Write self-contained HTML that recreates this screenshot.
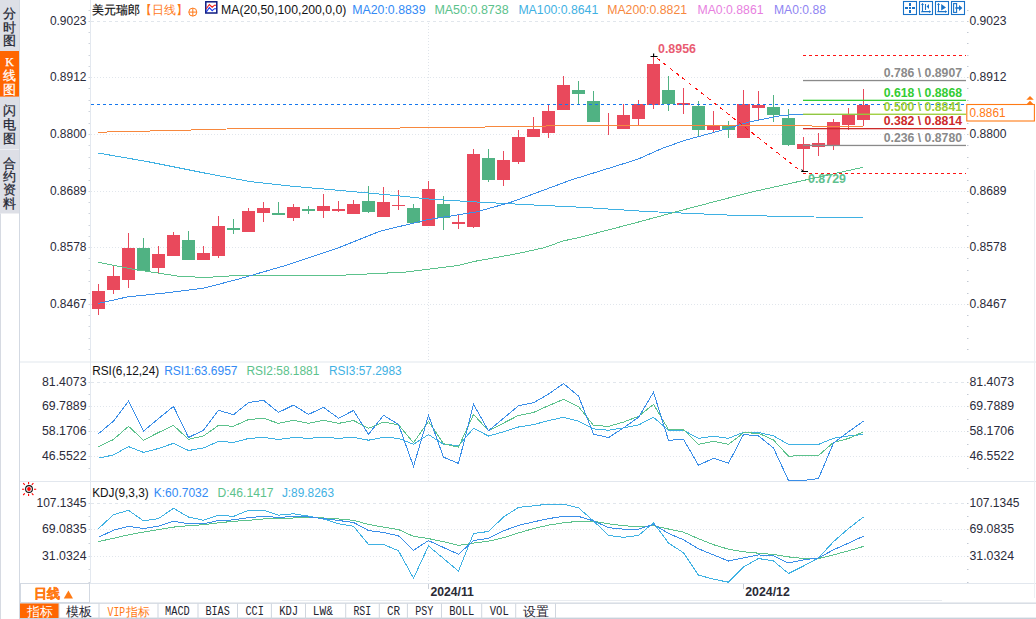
<!DOCTYPE html>
<html><head><meta charset="utf-8"><title>chart</title>
<style>
html,body{margin:0;padding:0;background:#fff;width:1036px;height:619px;overflow:hidden;}
svg{display:block;font-family:"Liberation Sans",sans-serif;}
</style></head><body>
<svg width="1036" height="619" viewBox="0 0 1036 619">
<rect x="0" y="0" width="19" height="213.5" fill="#dddfe6"/>
<rect x="0" y="51" width="19" height="45.6" fill="#ff6600"/>
<rect x="0" y="149" width="19" height="1" fill="#eceef2"/>
<rect x="0" y="213.5" width="1" height="405.5" fill="#d6dae2"/>
<rect x="19" y="0" width="1" height="619" fill="#d3d9e2"/>
<rect x="20" y="361.5" width="1016" height="1" fill="#e2e7ee"/>
<rect x="20" y="481" width="1016" height="1" fill="#e2e7ee"/>
<rect x="20" y="583" width="1016" height="1" fill="#e2e7ee"/>
<rect x="282" y="600" width="660" height="1" fill="#e9ecf0"/>
<rect x="20" y="602.6" width="1016" height="1.1" fill="#c9d0da"/>
<rect x="20" y="617.6" width="1016" height="1.4" fill="#c9d0da"/>
<rect x="1034" y="170" width="1" height="428" fill="#edf0f4"/>
<line x1="90.5" y1="0" x2="90.5" y2="583" stroke="#e3e8ef" stroke-width="1"/>
<rect x="88.5" y="21" width="1.5" height="1" fill="#cfd4dc"/>
<rect x="967" y="21" width="1.5" height="1" fill="#c3c9d2"/>
<rect x="88.5" y="32" width="1.5" height="1" fill="#cfd4dc"/>
<rect x="967" y="32" width="1.5" height="1" fill="#c3c9d2"/>
<rect x="88.5" y="43" width="1.5" height="1" fill="#cfd4dc"/>
<rect x="967" y="43" width="1.5" height="1" fill="#c3c9d2"/>
<rect x="88.5" y="55" width="1.5" height="1" fill="#cfd4dc"/>
<rect x="967" y="55" width="1.5" height="1" fill="#c3c9d2"/>
<rect x="88.5" y="66" width="1.5" height="1" fill="#cfd4dc"/>
<rect x="967" y="66" width="1.5" height="1" fill="#c3c9d2"/>
<rect x="88.5" y="77" width="1.5" height="1" fill="#cfd4dc"/>
<rect x="967" y="77" width="1.5" height="1" fill="#c3c9d2"/>
<rect x="88.5" y="88" width="1.5" height="1" fill="#cfd4dc"/>
<rect x="967" y="88" width="1.5" height="1" fill="#c3c9d2"/>
<rect x="88.5" y="100" width="1.5" height="1" fill="#cfd4dc"/>
<rect x="967" y="100" width="1.5" height="1" fill="#c3c9d2"/>
<rect x="88.5" y="111" width="1.5" height="1" fill="#cfd4dc"/>
<rect x="967" y="111" width="1.5" height="1" fill="#c3c9d2"/>
<rect x="88.5" y="123" width="1.5" height="1" fill="#cfd4dc"/>
<rect x="967" y="123" width="1.5" height="1" fill="#c3c9d2"/>
<rect x="88.5" y="134" width="1.5" height="1" fill="#cfd4dc"/>
<rect x="967" y="134" width="1.5" height="1" fill="#c3c9d2"/>
<rect x="88.5" y="145" width="1.5" height="1" fill="#cfd4dc"/>
<rect x="967" y="145" width="1.5" height="1" fill="#c3c9d2"/>
<rect x="88.5" y="157" width="1.5" height="1" fill="#cfd4dc"/>
<rect x="967" y="157" width="1.5" height="1" fill="#c3c9d2"/>
<rect x="88.5" y="168" width="1.5" height="1" fill="#cfd4dc"/>
<rect x="967" y="168" width="1.5" height="1" fill="#c3c9d2"/>
<rect x="88.5" y="180" width="1.5" height="1" fill="#cfd4dc"/>
<rect x="967" y="180" width="1.5" height="1" fill="#c3c9d2"/>
<rect x="88.5" y="191" width="1.5" height="1" fill="#cfd4dc"/>
<rect x="967" y="191" width="1.5" height="1" fill="#c3c9d2"/>
<rect x="88.5" y="202" width="1.5" height="1" fill="#cfd4dc"/>
<rect x="967" y="202" width="1.5" height="1" fill="#c3c9d2"/>
<rect x="88.5" y="213" width="1.5" height="1" fill="#cfd4dc"/>
<rect x="967" y="213" width="1.5" height="1" fill="#c3c9d2"/>
<rect x="88.5" y="225" width="1.5" height="1" fill="#cfd4dc"/>
<rect x="967" y="225" width="1.5" height="1" fill="#c3c9d2"/>
<rect x="88.5" y="236" width="1.5" height="1" fill="#cfd4dc"/>
<rect x="967" y="236" width="1.5" height="1" fill="#c3c9d2"/>
<rect x="88.5" y="247" width="1.5" height="1" fill="#cfd4dc"/>
<rect x="967" y="247" width="1.5" height="1" fill="#c3c9d2"/>
<rect x="88.5" y="258" width="1.5" height="1" fill="#cfd4dc"/>
<rect x="967" y="258" width="1.5" height="1" fill="#c3c9d2"/>
<rect x="88.5" y="270" width="1.5" height="1" fill="#cfd4dc"/>
<rect x="967" y="270" width="1.5" height="1" fill="#c3c9d2"/>
<rect x="88.5" y="281" width="1.5" height="1" fill="#cfd4dc"/>
<rect x="967" y="281" width="1.5" height="1" fill="#c3c9d2"/>
<rect x="88.5" y="293" width="1.5" height="1" fill="#cfd4dc"/>
<rect x="967" y="293" width="1.5" height="1" fill="#c3c9d2"/>
<rect x="88.5" y="304" width="1.5" height="1" fill="#cfd4dc"/>
<rect x="967" y="304" width="1.5" height="1" fill="#c3c9d2"/>
<rect x="88.5" y="315" width="1.5" height="1" fill="#cfd4dc"/>
<rect x="967" y="315" width="1.5" height="1" fill="#c3c9d2"/>
<rect x="88.5" y="326" width="1.5" height="1" fill="#cfd4dc"/>
<rect x="967" y="326" width="1.5" height="1" fill="#c3c9d2"/>
<rect x="88.5" y="338" width="1.5" height="1" fill="#cfd4dc"/>
<rect x="967" y="338" width="1.5" height="1" fill="#c3c9d2"/>
<rect x="88.5" y="349" width="1.5" height="1" fill="#cfd4dc"/>
<rect x="967" y="349" width="1.5" height="1" fill="#c3c9d2"/>
<rect x="88.5" y="10" width="1.5" height="1" fill="#cfd4dc"/>
<rect x="967" y="10" width="1.5" height="1" fill="#c3c9d2"/>
<rect x="88.5" y="382" width="1.5" height="1" fill="#cfd4dc"/>
<rect x="967" y="382" width="1.5" height="1" fill="#c3c9d2"/>
<rect x="88.5" y="394" width="1.5" height="1" fill="#cfd4dc"/>
<rect x="967" y="394" width="1.5" height="1" fill="#c3c9d2"/>
<rect x="88.5" y="406" width="1.5" height="1" fill="#cfd4dc"/>
<rect x="967" y="406" width="1.5" height="1" fill="#c3c9d2"/>
<rect x="88.5" y="419" width="1.5" height="1" fill="#cfd4dc"/>
<rect x="967" y="419" width="1.5" height="1" fill="#c3c9d2"/>
<rect x="88.5" y="431" width="1.5" height="1" fill="#cfd4dc"/>
<rect x="967" y="431" width="1.5" height="1" fill="#c3c9d2"/>
<rect x="88.5" y="444" width="1.5" height="1" fill="#cfd4dc"/>
<rect x="967" y="444" width="1.5" height="1" fill="#c3c9d2"/>
<rect x="88.5" y="456" width="1.5" height="1" fill="#cfd4dc"/>
<rect x="967" y="456" width="1.5" height="1" fill="#c3c9d2"/>
<rect x="88.5" y="468" width="1.5" height="1" fill="#cfd4dc"/>
<rect x="967" y="468" width="1.5" height="1" fill="#c3c9d2"/>
<rect x="88.5" y="503" width="1.5" height="1" fill="#cfd4dc"/>
<rect x="967" y="503" width="1.5" height="1" fill="#c3c9d2"/>
<rect x="88.5" y="516" width="1.5" height="1" fill="#cfd4dc"/>
<rect x="967" y="516" width="1.5" height="1" fill="#c3c9d2"/>
<rect x="88.5" y="529" width="1.5" height="1" fill="#cfd4dc"/>
<rect x="967" y="529" width="1.5" height="1" fill="#c3c9d2"/>
<rect x="88.5" y="543" width="1.5" height="1" fill="#cfd4dc"/>
<rect x="967" y="543" width="1.5" height="1" fill="#c3c9d2"/>
<rect x="88.5" y="556" width="1.5" height="1" fill="#cfd4dc"/>
<rect x="967" y="556" width="1.5" height="1" fill="#c3c9d2"/>
<rect x="88.5" y="569" width="1.5" height="1" fill="#cfd4dc"/>
<rect x="967" y="569" width="1.5" height="1" fill="#c3c9d2"/>
<rect x="88.5" y="582" width="1.5" height="1" fill="#cfd4dc"/>
<rect x="967" y="582" width="1.5" height="1" fill="#c3c9d2"/>
<line x1="91" y1="21.5" x2="967" y2="21.5" stroke="#e1e6ec" stroke-width="1" stroke-dasharray="3,3"/>
<line x1="91" y1="77.5" x2="967" y2="77.5" stroke="#e1e6ec" stroke-width="1" stroke-dasharray="1,2"/>
<line x1="91" y1="134.5" x2="967" y2="134.5" stroke="#e1e6ec" stroke-width="1" stroke-dasharray="1,2"/>
<line x1="91" y1="191.5" x2="967" y2="191.5" stroke="#e1e6ec" stroke-width="1" stroke-dasharray="1,2"/>
<line x1="91" y1="247.5" x2="967" y2="247.5" stroke="#e1e6ec" stroke-width="1" stroke-dasharray="1,2"/>
<line x1="91" y1="304.5" x2="967" y2="304.5" stroke="#e1e6ec" stroke-width="1" stroke-dasharray="1,2"/>
<line x1="91" y1="382.5" x2="967" y2="382.5" stroke="#e1e6ec" stroke-width="1" stroke-dasharray="3,3"/>
<line x1="91" y1="406.5" x2="967" y2="406.5" stroke="#e1e6ec" stroke-width="1" stroke-dasharray="1,2"/>
<line x1="91" y1="431.5" x2="967" y2="431.5" stroke="#e1e6ec" stroke-width="1" stroke-dasharray="1,2"/>
<line x1="91" y1="456.5" x2="967" y2="456.5" stroke="#e1e6ec" stroke-width="1" stroke-dasharray="1,2"/>
<line x1="91" y1="503.5" x2="967" y2="503.5" stroke="#e1e6ec" stroke-width="1" stroke-dasharray="3,3"/>
<line x1="91" y1="529.5" x2="967" y2="529.5" stroke="#e1e6ec" stroke-width="1" stroke-dasharray="1,2"/>
<line x1="91" y1="556.5" x2="967" y2="556.5" stroke="#e1e6ec" stroke-width="1" stroke-dasharray="1,2"/>
<line x1="428.5" y1="23.0" x2="428.5" y2="361.0" stroke="#dfe4ea" stroke-width="1" stroke-dasharray="1,2"/>
<line x1="428.5" y1="384.0" x2="428.5" y2="481.0" stroke="#dfe4ea" stroke-width="1" stroke-dasharray="1,2"/>
<line x1="428.5" y1="505.0" x2="428.5" y2="583.0" stroke="#dfe4ea" stroke-width="1" stroke-dasharray="1,2"/>
<rect x="428.0" y="584" width="1" height="5" fill="#c9cfd8"/>
<rect x="743.0" y="584" width="1" height="5" fill="#c9cfd8"/>
<rect x="98.0" y="284" width="1" height="31" fill="#e9495c"/>
<rect x="92.0" y="291" width="13" height="18" fill="#e9495c"/>
<rect x="113.0" y="266" width="1" height="28" fill="#e9495c"/>
<rect x="107.0" y="276" width="13" height="14" fill="#e9495c"/>
<rect x="128.0" y="233" width="1" height="55" fill="#e9495c"/>
<rect x="122.0" y="248" width="13" height="32" fill="#e9495c"/>
<rect x="143.0" y="238" width="1" height="33" fill="#50b283"/>
<rect x="137.0" y="248" width="13" height="23" fill="#50b283"/>
<rect x="158.0" y="246" width="1" height="27" fill="#e9495c"/>
<rect x="152.0" y="254" width="13" height="14" fill="#e9495c"/>
<rect x="173.0" y="232" width="1" height="24" fill="#e9495c"/>
<rect x="167.0" y="235" width="13" height="21" fill="#e9495c"/>
<rect x="188.0" y="231" width="1" height="29" fill="#50b283"/>
<rect x="182.0" y="240" width="13" height="20" fill="#50b283"/>
<rect x="203.0" y="246" width="1" height="14" fill="#e9495c"/>
<rect x="197.0" y="253" width="13" height="7" fill="#e9495c"/>
<rect x="218.0" y="216" width="1" height="42" fill="#e9495c"/>
<rect x="212.0" y="226" width="13" height="30" fill="#e9495c"/>
<rect x="233.0" y="219" width="1" height="15" fill="#50b283"/>
<rect x="227.0" y="228" width="13" height="2" fill="#50b283"/>
<rect x="248.0" y="208" width="1" height="24" fill="#e9495c"/>
<rect x="242.0" y="211" width="13" height="21" fill="#e9495c"/>
<rect x="263.0" y="202" width="1" height="20" fill="#e9495c"/>
<rect x="257.0" y="208" width="13" height="5" fill="#e9495c"/>
<rect x="278.0" y="202" width="1" height="12" fill="#50b283"/>
<rect x="272.0" y="213" width="13" height="2" fill="#50b283"/>
<rect x="293.0" y="204" width="1" height="17" fill="#e9495c"/>
<rect x="287.0" y="207" width="13" height="11" fill="#e9495c"/>
<rect x="308.0" y="206" width="1" height="8" fill="#50b283"/>
<rect x="302.0" y="209" width="13" height="2" fill="#50b283"/>
<rect x="323.0" y="194" width="1" height="24" fill="#e9495c"/>
<rect x="317.0" y="206" width="13" height="5" fill="#e9495c"/>
<rect x="338.0" y="201" width="1" height="11" fill="#e9495c"/>
<rect x="332.0" y="209" width="13" height="2" fill="#e9495c"/>
<rect x="353.0" y="200" width="1" height="14" fill="#e9495c"/>
<rect x="347.0" y="204" width="13" height="10" fill="#e9495c"/>
<rect x="368.0" y="186" width="1" height="27" fill="#50b283"/>
<rect x="362.0" y="201" width="13" height="11" fill="#50b283"/>
<rect x="383.0" y="187" width="1" height="30" fill="#e9495c"/>
<rect x="377.0" y="202" width="13" height="15" fill="#e9495c"/>
<rect x="398.0" y="190" width="1" height="20" fill="#e9495c"/>
<rect x="392.0" y="205" width="13" height="1" fill="#e9495c"/>
<rect x="413.0" y="204" width="1" height="19" fill="#50b283"/>
<rect x="407.0" y="208" width="13" height="15" fill="#50b283"/>
<rect x="428.0" y="181" width="1" height="45" fill="#e9495c"/>
<rect x="422.0" y="189" width="13" height="37" fill="#e9495c"/>
<rect x="443.0" y="196" width="1" height="34" fill="#50b283"/>
<rect x="437.0" y="204" width="13" height="14" fill="#50b283"/>
<rect x="458.0" y="214" width="1" height="15" fill="#e9495c"/>
<rect x="452.0" y="222" width="13" height="2" fill="#e9495c"/>
<rect x="473.0" y="149" width="1" height="79" fill="#e9495c"/>
<rect x="467.0" y="154" width="13" height="73" fill="#e9495c"/>
<rect x="488.0" y="149" width="1" height="33" fill="#50b283"/>
<rect x="482.0" y="158" width="13" height="22" fill="#50b283"/>
<rect x="503.0" y="151" width="1" height="35" fill="#e9495c"/>
<rect x="497.0" y="160" width="13" height="20" fill="#e9495c"/>
<rect x="518.0" y="130" width="1" height="34" fill="#e9495c"/>
<rect x="512.0" y="137" width="13" height="25" fill="#e9495c"/>
<rect x="533.0" y="117" width="1" height="20" fill="#e9495c"/>
<rect x="527.0" y="129" width="13" height="8" fill="#e9495c"/>
<rect x="548.0" y="104" width="1" height="34" fill="#e9495c"/>
<rect x="542.0" y="111" width="13" height="22" fill="#e9495c"/>
<rect x="563.0" y="76" width="1" height="34" fill="#e9495c"/>
<rect x="557.0" y="85" width="13" height="25" fill="#e9495c"/>
<rect x="578.0" y="81" width="1" height="23" fill="#50b283"/>
<rect x="572.0" y="90" width="13" height="4" fill="#50b283"/>
<rect x="593.0" y="91" width="1" height="31" fill="#50b283"/>
<rect x="587.0" y="101" width="13" height="21" fill="#50b283"/>
<rect x="608.0" y="113" width="1" height="22" fill="#e9495c"/>
<rect x="602.0" y="125" width="13" height="1" fill="#e9495c"/>
<rect x="623.0" y="104" width="1" height="25" fill="#e9495c"/>
<rect x="617.0" y="115" width="13" height="14" fill="#e9495c"/>
<rect x="638.0" y="100" width="1" height="25" fill="#e9495c"/>
<rect x="632.0" y="104" width="13" height="15" fill="#e9495c"/>
<rect x="653.0" y="56" width="1" height="53" fill="#e9495c"/>
<rect x="647.0" y="64" width="13" height="41" fill="#e9495c"/>
<rect x="668.0" y="76" width="1" height="35" fill="#50b283"/>
<rect x="662.0" y="90" width="13" height="14" fill="#50b283"/>
<rect x="683.0" y="88" width="1" height="26" fill="#e9495c"/>
<rect x="677.0" y="103" width="13" height="2" fill="#e9495c"/>
<rect x="698.0" y="101" width="1" height="36" fill="#50b283"/>
<rect x="692.0" y="106" width="13" height="24" fill="#50b283"/>
<rect x="713.0" y="111" width="1" height="21" fill="#e9495c"/>
<rect x="707.0" y="125" width="13" height="5" fill="#e9495c"/>
<rect x="728.0" y="121" width="1" height="17" fill="#50b283"/>
<rect x="722.0" y="125" width="13" height="5" fill="#50b283"/>
<rect x="743.0" y="90" width="1" height="48" fill="#e9495c"/>
<rect x="737.0" y="104" width="13" height="34" fill="#e9495c"/>
<rect x="758.0" y="91" width="1" height="29" fill="#e9495c"/>
<rect x="752.0" y="105" width="13" height="3" fill="#e9495c"/>
<rect x="773.0" y="95" width="1" height="27" fill="#50b283"/>
<rect x="767.0" y="107" width="13" height="8" fill="#50b283"/>
<rect x="788.0" y="109" width="1" height="37" fill="#50b283"/>
<rect x="782.0" y="118" width="13" height="27" fill="#50b283"/>
<rect x="803.0" y="137" width="1" height="35" fill="#e9495c"/>
<rect x="797.0" y="144" width="13" height="5" fill="#e9495c"/>
<rect x="818.0" y="133" width="1" height="23" fill="#e9495c"/>
<rect x="812.0" y="143" width="13" height="4" fill="#e9495c"/>
<rect x="833.0" y="119" width="1" height="31" fill="#e9495c"/>
<rect x="827.0" y="122" width="13" height="23" fill="#e9495c"/>
<rect x="848.0" y="108" width="1" height="22" fill="#e9495c"/>
<rect x="842.0" y="115" width="13" height="10" fill="#e9495c"/>
<rect x="863.0" y="89" width="1" height="37" fill="#e9495c"/>
<rect x="857.0" y="105" width="13" height="15" fill="#e9495c"/>
<polyline points="98.0,132.3 120.0,131.6 166.0,130.7 227.0,129.0 272.0,128.1 285.0,128.4 400.0,128.0 479.0,127.1 571.0,125.6 811.0,125.6 814.0,126.6 863.0,126.6" fill="none" stroke="#f7883e" stroke-width="1" shape-rendering="crispEdges"/>
<polyline points="98.0,153.0 148.0,161.7 206.0,173.3 249.0,181.4 293.0,186.3 336.0,190.1 390.0,195.0 432.0,199.3 480.0,202.2 540.0,205.3 580.0,207.2 647.0,211.5 733.8,215.3 814.0,217.0 863.0,217.3" fill="none" stroke="#3fb1e3" stroke-width="1" shape-rendering="crispEdges"/>
<polyline points="98.0,262.2 133.5,269.3 182.0,276.7 208.0,277.3 230.4,275.9 285.0,275.3 340.0,275.3 380.0,273.4 405.0,272.1 428.0,269.2 457.0,265.7 476.5,261.0 515.0,254.1 544.0,247.8 563.0,241.0 580.0,237.3 630.4,224.2 685.0,209.4 749.6,192.5 807.8,179.5 863.0,167.3" fill="none" stroke="#5cc28c" stroke-width="1" shape-rendering="crispEdges"/>
<polyline points="98.0,303.5 127.0,297.0 166.0,292.9 204.5,288.0 240.0,278.7 288.5,264.6 340.0,247.2 380.0,231.2 428.0,219.6 476.5,211.9 511.0,202.2 571.0,180.0 637.0,159.5 662.7,148.2 685.0,140.3 717.3,131.5 749.6,121.8 782.0,115.5 803.0,114.0 863.0,114.0" fill="none" stroke="#3a8ee8" stroke-width="1" shape-rendering="crispEdges"/>
<line x1="91" y1="104.5" x2="966" y2="104.5" stroke="#1577ee" stroke-width="1.2" stroke-dasharray="3,3"/>
<line x1="657" y1="58" x2="802" y2="172" stroke="#ff1010" stroke-width="1" shape-rendering="crispEdges" stroke-dasharray="4,4"/>
<line x1="803" y1="55.5" x2="966" y2="55.5" stroke="#ff1414" stroke-width="1.1" stroke-dasharray="3,3"/>
<line x1="803" y1="173.5" x2="966" y2="173.5" stroke="#ff1414" stroke-width="1.1" stroke-dasharray="3,3"/>
<rect x="803" y="79.9" width="163" height="1.3" fill="#8a8a8a"/>
<rect x="803" y="99.7" width="163" height="1.3" fill="#33cc33"/>
<rect x="803" y="113.6" width="163" height="1.3" fill="#99cc33"/>
<rect x="803" y="128.0" width="163" height="1.3" fill="#cc2a2a"/>
<rect x="803" y="144.8" width="163" height="1.3" fill="#8a8a8a"/>
<text x="962" y="77.4" text-anchor="end" font-family="'Liberation Sans', sans-serif" font-size="12.5" font-weight="bold" fill="#8a8a8a" textLength="78.2" lengthAdjust="spacingAndGlyphs">0.786 \ 0.8907</text>
<text x="962" y="96.8" text-anchor="end" font-family="'Liberation Sans', sans-serif" font-size="12.5" font-weight="bold" fill="#33cc33" textLength="78.2" lengthAdjust="spacingAndGlyphs">0.618 \ 0.8868</text>
<text x="962" y="111.3" text-anchor="end" font-family="'Liberation Sans', sans-serif" font-size="12.5" font-weight="bold" fill="#99cc33" textLength="78.2" lengthAdjust="spacingAndGlyphs">0.500 \ 0.8841</text>
<text x="962" y="125.1" text-anchor="end" font-family="'Liberation Sans', sans-serif" font-size="12.5" font-weight="bold" fill="#cc2a2a" textLength="78.2" lengthAdjust="spacingAndGlyphs">0.382 \ 0.8814</text>
<text x="962" y="142.0" text-anchor="end" font-family="'Liberation Sans', sans-serif" font-size="12.5" font-weight="bold" fill="#8a8a8a" textLength="78.2" lengthAdjust="spacingAndGlyphs">0.236 \ 0.8780</text>
<path d="M650.5 56.5h7M653.6 53.6v3.4" stroke="#000" stroke-width="1.2"/>
<path d="M801.2 171.5h6.8M801.5 169.5l1.8 2" stroke="#000" stroke-width="1.1"/>
<text x="658" y="53" font-family="'Liberation Sans', sans-serif" font-size="12" font-weight="bold" fill="#e95c72" textLength="38" lengthAdjust="spacingAndGlyphs">0.8956</text>
<text x="808" y="183.3" font-family="'Liberation Sans', sans-serif" font-size="12" font-weight="bold" fill="#5fbf8e" textLength="38" lengthAdjust="spacingAndGlyphs">0.8729</text>
<polyline points="98.5,458.2 113.5,454.9 128.5,446.6 143.5,452.4 158.5,448.5 173.5,443.3 188.5,450.5 203.5,448.0 218.5,441.4 233.5,442.4 248.5,438.5 263.5,437.3 278.5,439.5 293.5,437.5 308.5,438.3 323.5,437.3 338.5,438.3 353.5,437.3 368.5,440.2 383.5,437.3 398.5,438.3 413.5,444.3 428.5,434.6 443.5,444.3 458.5,445.6 473.5,428.3 488.5,436.0 503.5,431.8 518.5,427.0 533.5,424.6 548.5,420.6 563.5,417.3 578.5,421.2 593.5,428.9 608.5,430.2 623.5,427.9 638.5,425.0 653.5,417.3 668.5,430.3 683.5,430.4 698.5,438.3 713.5,436.3 728.5,438.3 743.5,432.4 758.5,432.4 773.5,435.9 788.5,444.4 803.5,444.4 818.5,444.4 833.5,438.3 848.5,435.9 863.5,434.5" fill="none" stroke="#3fb1e3" stroke-width="1" shape-rendering="crispEdges"/>
<polyline points="98.5,446.6 113.5,439.5 128.5,426.3 143.5,440.2 158.5,432.5 173.5,425.4 188.5,439.3 203.5,436.0 218.5,425.4 233.5,426.3 248.5,419.6 263.5,418.2 278.5,423.4 293.5,420.2 308.5,423.4 323.5,420.2 338.5,423.4 353.5,420.5 368.5,428.3 383.5,422.1 398.5,424.8 413.5,442.7 428.5,421.5 443.5,443.7 458.5,447.2 473.5,414.4 488.5,430.8 503.5,423.1 518.5,415.4 533.5,412.5 548.5,405.7 563.5,399.3 578.5,406.7 593.5,425.4 608.5,426.4 623.5,422.1 638.5,416.3 653.5,404.4 668.5,429.5 683.5,429.8 698.5,444.4 713.5,441.4 728.5,444.4 743.5,432.8 758.5,433.2 773.5,440.0 788.5,456.2 803.5,455.5 818.5,455.5 833.5,442.4 848.5,438.5 863.5,431.8" fill="none" stroke="#5cc28c" stroke-width="1" shape-rendering="crispEdges"/>
<polyline points="98.5,433.7 113.5,421.1 128.5,401.2 143.5,431.2 158.5,418.6 173.5,406.4 188.5,437.5 203.5,430.2 218.5,410.3 233.5,414.7 248.5,402.6 263.5,400.3 278.5,412.4 293.5,405.1 308.5,414.4 323.5,407.4 338.5,418.2 353.5,410.5 368.5,434.4 383.5,415.3 398.5,424.4 413.5,466.5 428.5,415.3 443.5,457.2 458.5,463.4 473.5,404.3 488.5,430.8 503.5,418.3 518.5,405.7 533.5,402.8 548.5,394.1 563.5,383.5 578.5,396.1 593.5,434.1 608.5,437.6 623.5,427.9 638.5,417.3 653.5,392.2 668.5,440.3 683.5,439.3 698.5,465.3 713.5,458.2 728.5,463.2 743.5,434.5 758.5,435.9 773.5,448.0 788.5,480.5 803.5,480.5 818.5,478.5 833.5,443.0 848.5,431.8 863.5,421.1" fill="none" stroke="#3a8ee8" stroke-width="1" shape-rendering="crispEdges"/>
<polyline points="98.5,541.5 113.5,538.3 128.5,534.8 143.5,532.1 158.5,529.6 173.5,527.1 188.5,525.7 203.5,524.7 218.5,522.8 233.5,521.3 248.5,520.3 263.5,519.0 278.5,518.4 293.5,518.0 308.5,517.6 323.5,518.0 338.5,519.0 353.5,520.3 368.5,524.4 383.5,527.1 398.5,529.6 413.5,536.3 428.5,538.6 443.5,541.7 458.5,545.4 473.5,543.1 488.5,541.2 503.5,537.7 518.5,532.9 533.5,528.6 548.5,525.1 563.5,522.8 578.5,521.3 593.5,521.3 608.5,523.8 623.5,525.7 638.5,526.7 653.5,525.7 668.5,529.0 683.5,532.2 698.5,538.7 713.5,544.7 728.5,549.2 743.5,551.8 758.5,553.2 773.5,554.5 788.5,556.9 803.5,558.5 818.5,558.5 833.5,554.9 848.5,550.8 863.5,546.4" fill="none" stroke="#5cc28c" stroke-width="1" shape-rendering="crispEdges"/>
<polyline points="98.5,528.6 113.5,514.7 128.5,510.3 143.5,520.9 158.5,518.6 173.5,508.3 188.5,517.0 203.5,520.3 218.5,515.1 233.5,516.4 248.5,510.3 263.5,510.3 278.5,515.1 293.5,513.8 308.5,516.1 323.5,519.0 338.5,523.8 353.5,526.3 368.5,544.4 383.5,544.4 398.5,550.8 413.5,578.2 428.5,546.0 443.5,558.5 458.5,571.1 473.5,533.4 488.5,531.5 503.5,517.0 518.5,507.4 533.5,505.8 548.5,504.1 563.5,504.1 578.5,507.8 593.5,520.9 608.5,535.4 623.5,537.3 638.5,535.4 653.5,522.8 668.5,543.0 683.5,552.8 698.5,575.1 713.5,579.2 728.5,582.2 743.5,567.0 758.5,558.5 773.5,561.0 788.5,573.5 803.5,566.0 818.5,557.9 833.5,541.7 848.5,528.5 863.5,517.0" fill="none" stroke="#3fb1e3" stroke-width="1" shape-rendering="crispEdges"/>
<polyline points="98.5,537.3 113.5,530.2 128.5,526.3 143.5,528.6 158.5,526.1 173.5,521.3 188.5,523.8 203.5,523.8 218.5,520.5 233.5,519.9 248.5,517.6 263.5,516.4 278.5,517.4 293.5,516.5 308.5,517.0 323.5,518.6 338.5,520.5 353.5,522.4 368.5,530.5 383.5,532.5 398.5,535.8 413.5,550.2 428.5,540.6 443.5,547.5 458.5,554.3 473.5,540.6 488.5,538.3 503.5,530.9 518.5,525.3 533.5,521.9 548.5,518.6 563.5,516.4 578.5,516.4 593.5,520.9 608.5,527.6 623.5,529.2 638.5,529.2 653.5,524.4 668.5,533.5 683.5,539.7 698.5,548.8 713.5,554.9 728.5,561.0 743.5,557.9 758.5,554.9 773.5,555.9 788.5,563.0 803.5,559.9 818.5,557.9 833.5,549.8 848.5,543.1 863.5,536.2" fill="none" stroke="#3a8ee8" stroke-width="1" shape-rendering="crispEdges"/>
<text x="86.5" y="25.1" text-anchor="end" font-family="'Liberation Sans', sans-serif" font-size="12" fill="#2b2b3a" textLength="36.6" lengthAdjust="spacingAndGlyphs">0.9023</text>
<text x="969.5" y="25.1" text-anchor="start" font-family="'Liberation Sans', sans-serif" font-size="12" fill="#2b2b3a" textLength="37.0" lengthAdjust="spacingAndGlyphs">0.9023</text>
<text x="86.5" y="81.1" text-anchor="end" font-family="'Liberation Sans', sans-serif" font-size="12" fill="#2b2b3a" textLength="36.6" lengthAdjust="spacingAndGlyphs">0.8912</text>
<text x="969.5" y="81.1" text-anchor="start" font-family="'Liberation Sans', sans-serif" font-size="12" fill="#2b2b3a" textLength="37.0" lengthAdjust="spacingAndGlyphs">0.8912</text>
<text x="86.5" y="138.1" text-anchor="end" font-family="'Liberation Sans', sans-serif" font-size="12" fill="#2b2b3a" textLength="36.6" lengthAdjust="spacingAndGlyphs">0.8800</text>
<text x="969.5" y="138.1" text-anchor="start" font-family="'Liberation Sans', sans-serif" font-size="12" fill="#2b2b3a" textLength="37.0" lengthAdjust="spacingAndGlyphs">0.8800</text>
<text x="86.5" y="195.1" text-anchor="end" font-family="'Liberation Sans', sans-serif" font-size="12" fill="#2b2b3a" textLength="36.6" lengthAdjust="spacingAndGlyphs">0.8689</text>
<text x="969.5" y="195.1" text-anchor="start" font-family="'Liberation Sans', sans-serif" font-size="12" fill="#2b2b3a" textLength="37.0" lengthAdjust="spacingAndGlyphs">0.8689</text>
<text x="86.5" y="251.1" text-anchor="end" font-family="'Liberation Sans', sans-serif" font-size="12" fill="#2b2b3a" textLength="36.6" lengthAdjust="spacingAndGlyphs">0.8578</text>
<text x="969.5" y="251.1" text-anchor="start" font-family="'Liberation Sans', sans-serif" font-size="12" fill="#2b2b3a" textLength="37.0" lengthAdjust="spacingAndGlyphs">0.8578</text>
<text x="86.5" y="308.1" text-anchor="end" font-family="'Liberation Sans', sans-serif" font-size="12" fill="#2b2b3a" textLength="36.6" lengthAdjust="spacingAndGlyphs">0.8467</text>
<text x="969.5" y="308.1" text-anchor="start" font-family="'Liberation Sans', sans-serif" font-size="12" fill="#2b2b3a" textLength="37.0" lengthAdjust="spacingAndGlyphs">0.8467</text>
<text x="86.5" y="386.1" text-anchor="end" font-family="'Liberation Sans', sans-serif" font-size="12" fill="#2b2b3a" textLength="44.5" lengthAdjust="spacingAndGlyphs">81.4073</text>
<text x="969.5" y="386.1" text-anchor="start" font-family="'Liberation Sans', sans-serif" font-size="12" fill="#2b2b3a" textLength="44.5" lengthAdjust="spacingAndGlyphs">81.4073</text>
<text x="86.5" y="410.1" text-anchor="end" font-family="'Liberation Sans', sans-serif" font-size="12" fill="#2b2b3a" textLength="44.5" lengthAdjust="spacingAndGlyphs">69.7889</text>
<text x="969.5" y="410.1" text-anchor="start" font-family="'Liberation Sans', sans-serif" font-size="12" fill="#2b2b3a" textLength="44.5" lengthAdjust="spacingAndGlyphs">69.7889</text>
<text x="86.5" y="435.1" text-anchor="end" font-family="'Liberation Sans', sans-serif" font-size="12" fill="#2b2b3a" textLength="44.5" lengthAdjust="spacingAndGlyphs">58.1706</text>
<text x="969.5" y="435.1" text-anchor="start" font-family="'Liberation Sans', sans-serif" font-size="12" fill="#2b2b3a" textLength="44.5" lengthAdjust="spacingAndGlyphs">58.1706</text>
<text x="86.5" y="460.1" text-anchor="end" font-family="'Liberation Sans', sans-serif" font-size="12" fill="#2b2b3a" textLength="44.5" lengthAdjust="spacingAndGlyphs">46.5522</text>
<text x="969.5" y="460.1" text-anchor="start" font-family="'Liberation Sans', sans-serif" font-size="12" fill="#2b2b3a" textLength="44.5" lengthAdjust="spacingAndGlyphs">46.5522</text>
<text x="86.5" y="507.1" text-anchor="end" font-family="'Liberation Sans', sans-serif" font-size="12" fill="#2b2b3a" textLength="50.0" lengthAdjust="spacingAndGlyphs">107.1345</text>
<text x="969.5" y="507.1" text-anchor="start" font-family="'Liberation Sans', sans-serif" font-size="12" fill="#2b2b3a" textLength="50.0" lengthAdjust="spacingAndGlyphs">107.1345</text>
<text x="86.5" y="533.1" text-anchor="end" font-family="'Liberation Sans', sans-serif" font-size="12" fill="#2b2b3a" textLength="44.5" lengthAdjust="spacingAndGlyphs">69.0835</text>
<text x="969.5" y="533.1" text-anchor="start" font-family="'Liberation Sans', sans-serif" font-size="12" fill="#2b2b3a" textLength="44.5" lengthAdjust="spacingAndGlyphs">69.0835</text>
<text x="86.5" y="560.1" text-anchor="end" font-family="'Liberation Sans', sans-serif" font-size="12" fill="#2b2b3a" textLength="44.5" lengthAdjust="spacingAndGlyphs">31.0324</text>
<text x="969.5" y="560.1" text-anchor="start" font-family="'Liberation Sans', sans-serif" font-size="12" fill="#2b2b3a" textLength="44.5" lengthAdjust="spacingAndGlyphs">31.0324</text>
<rect x="966.8" y="104.5" width="67.6" height="16.5" fill="#fff" stroke="#ff7a14" stroke-width="1.1"/>
<text x="969.5" y="117.2" font-family="'Liberation Sans', sans-serif" font-size="12.5" fill="#ff7a14" textLength="36" lengthAdjust="spacingAndGlyphs">0.8861</text>
<path d="M1026.3 99.8 L1030 96 L1033.8 99.8 Z M1026.3 104.5 L1030 100.7 L1033.8 104.5 Z" fill="#ff7a14"/>
<text x="92.4" y="14.2" font-family="'Liberation Sans', sans-serif" font-size="12" fill="#111" stroke="#111" stroke-width="0.2">美元瑞郎</text>
<text x="139.5" y="14.2" font-family="'Liberation Sans', sans-serif" font-size="12" fill="#ff7a1a">【日线】</text>
<circle cx="192.8" cy="12.1" r="4" fill="none" stroke="#ff7a1a" stroke-width="1"/>
<path d="M188.8 12.1h8M192.8 8.1v8" stroke="#ff7a1a" stroke-width="1"/>
<rect x="205.8" y="1.8" width="11" height="11.2" fill="#fff" stroke="#0c1a80" stroke-width="1.5"/>
<polyline points="206.3,8.7 209.3,4.5 212.2,7.2 214.5,5.2 216,5.2" fill="none" stroke="#f01818" stroke-width="1.1"/>
<polyline points="206.3,12 209.3,7.7 212.2,10.7 214.5,8.7 216,8.7" fill="none" stroke="#1838f0" stroke-width="1.1"/>
<text x="221.0" y="14.2" font-family="'Liberation Sans', sans-serif" font-size="12" font-weight="normal" fill="#111" textLength="125.4" lengthAdjust="spacingAndGlyphs">MA(20,50,100,200,0,0)</text>
<text x="352.2" y="14.2" font-family="'Liberation Sans', sans-serif" font-size="12" font-weight="normal" fill="#338af5" textLength="73.4" lengthAdjust="spacingAndGlyphs">MA20:0.8839</text>
<text x="434.4" y="14.2" font-family="'Liberation Sans', sans-serif" font-size="12" font-weight="normal" fill="#5cc28c" textLength="74.3" lengthAdjust="spacingAndGlyphs">MA50:0.8738</text>
<text x="518.4" y="14.2" font-family="'Liberation Sans', sans-serif" font-size="12" font-weight="normal" fill="#3fb1e3" textLength="79.9" lengthAdjust="spacingAndGlyphs">MA100:0.8641</text>
<text x="607.2" y="14.2" font-family="'Liberation Sans', sans-serif" font-size="12" font-weight="normal" fill="#f7883e" textLength="79.9" lengthAdjust="spacingAndGlyphs">MA200:0.8821</text>
<text x="697.5" y="14.2" font-family="'Liberation Sans', sans-serif" font-size="12" font-weight="normal" fill="#e87fe0" textLength="66.0" lengthAdjust="spacingAndGlyphs">MA0:0.8861</text>
<text x="774.0" y="14.2" font-family="'Liberation Sans', sans-serif" font-size="12" font-weight="normal" fill="#8f84f2" textLength="52.0" lengthAdjust="spacingAndGlyphs">MA0:0.88</text>
<text x="92.2" y="375.2" font-family="'Liberation Sans', sans-serif" font-size="12" font-weight="normal" fill="#111" textLength="67.0" lengthAdjust="spacingAndGlyphs">RSI(6,12,24)</text>
<text x="164.2" y="375.2" font-family="'Liberation Sans', sans-serif" font-size="12" font-weight="normal" fill="#338af5" textLength="73.3" lengthAdjust="spacingAndGlyphs">RSI1:63.6957</text>
<text x="246.4" y="375.2" font-family="'Liberation Sans', sans-serif" font-size="12" font-weight="normal" fill="#5cc28c" textLength="73.0" lengthAdjust="spacingAndGlyphs">RSI2:58.1881</text>
<text x="329.0" y="375.2" font-family="'Liberation Sans', sans-serif" font-size="12" font-weight="normal" fill="#3fb1e3" textLength="72.6" lengthAdjust="spacingAndGlyphs">RSI3:57.2983</text>
<text x="92.2" y="496.6" font-family="'Liberation Sans', sans-serif" font-size="12" font-weight="normal" fill="#111" textLength="56.5" lengthAdjust="spacingAndGlyphs">KDJ(9,3,3)</text>
<text x="153.7" y="496.6" font-family="'Liberation Sans', sans-serif" font-size="12" font-weight="normal" fill="#338af5" textLength="54.8" lengthAdjust="spacingAndGlyphs">K:60.7032</text>
<text x="217.4" y="496.6" font-family="'Liberation Sans', sans-serif" font-size="12" font-weight="normal" fill="#5cc28c" textLength="56.0" lengthAdjust="spacingAndGlyphs">D:46.1417</text>
<text x="281.9" y="496.6" font-family="'Liberation Sans', sans-serif" font-size="12" font-weight="normal" fill="#3fb1e3" textLength="52.1" lengthAdjust="spacingAndGlyphs">J:89.8263</text>
<rect x="903.5" y="1.5" width="13" height="13" fill="#fff" stroke="#1872c8" stroke-width="1.1"/>
<rect x="919.5" y="1.5" width="13" height="13" fill="#fff" stroke="#1872c8" stroke-width="1.1"/>
<rect x="935.5" y="1.5" width="13" height="13" fill="#fff" stroke="#1872c8" stroke-width="1.1"/>
<rect x="951.5" y="1.5" width="13" height="13" fill="#fff" stroke="#1872c8" stroke-width="1.1"/>
<path d="M909 3h2v3h-2zM909 7h2v2h-2zM909 10h2v3h-2zM905 7h3v2h-3zM912 7h3v2h-3z" fill="#1872c8"/>
<path d="M922.5 3.5v8.6M921.4 11.6h9.2M925.5 4v6" stroke="#1872c8" stroke-width="1.1" fill="none"/>
<path d="M921 5l1.5-2 1.5 2zM929 10.2l2 1.4-2 1.4zM921.6 10.2l0 2.8-0.2 0zM926.6 6.5l2.4-2.5v5z" fill="#1872c8"/>
<path d="M938.5 3.5v8.6M937.4 11.6h9.2" stroke="#1872c8" stroke-width="1.1" fill="none"/>
<path d="M937 5l1.5-2 1.5 2zM945 10.2l2 1.4-2 1.4zM941.2 4l4.8 3.4-4.8 3.2z" fill="#1872c8"/>
<rect x="953.6" y="3.6" width="3" height="8.8" fill="none" stroke="#1872c8" stroke-width="1.1"/>
<path d="M955.3 7.2h4.3v1.5h-4.3zM959 5l3.4 3-3.4 3z" fill="#1872c8"/>
<circle cx="29" cy="489" r="3.4" fill="#fff" stroke="#111" stroke-width="1.1"/>
<circle cx="29" cy="489" r="1.9" fill="#ff0000"/>
<path d="M28.6 482v2.2M28.6 493.8v2.2M22 489.3h2.2M34 489.3h2.2M23.2 483.2l1.6 1.6M33.4 483.2l-1.6 1.6M23.2 495l1.6-1.6M33.4 495l-1.6-1.6" stroke="#ff0000" stroke-width="1.1"/>
<text x="430.4" y="596.2" font-family="'Liberation Sans', sans-serif" font-size="12" font-weight="bold" fill="#2a2a35" textLength="43.4" lengthAdjust="spacingAndGlyphs">2024/11</text>
<text x="745.2" y="596.2" font-family="'Liberation Sans', sans-serif" font-size="12" font-weight="bold" fill="#2a2a35" textLength="44.6" lengthAdjust="spacingAndGlyphs">2024/12</text>
<rect x="20.5" y="583.5" width="69" height="19" fill="#fff" stroke="#d3d9e2" stroke-width="1"/>
<text x="34.4" y="597.6" font-family="'Liberation Sans', sans-serif" font-size="13" font-weight="bold" fill="#ff7a14" stroke="#ff7a14" stroke-width="0.4">日线</text>
<path d="M63.8 598.5l4.6-8 4.6 8z" fill="#ff7a14"/>
<rect x="20.0" y="603.5" width="39.0" height="14.5" fill="#ff6600"/>
<rect x="58.5" y="603.5" width="1" height="15.5" fill="#d0d6df"/>
<text x="39.5" y="615.5" text-anchor="middle" font-family="'Liberation Sans', sans-serif" font-size="13" fill="#fff">指标</text>
<rect x="98.5" y="603.5" width="1" height="15.5" fill="#d0d6df"/>
<text x="79.0" y="615.5" text-anchor="middle" font-family="'Liberation Sans', sans-serif" font-size="13" fill="#1e2430">模板</text>
<rect x="157.5" y="603.5" width="1" height="15.5" fill="#d0d6df"/>
<text x="107.6" y="615.5" font-family="'Liberation Mono', monospace" font-size="12" fill="#ff7a14" textLength="17.6" lengthAdjust="spacingAndGlyphs">VIP</text>
<text x="125.5" y="616" font-family="'Liberation Sans', sans-serif" font-size="12" fill="#ff7a14">指标</text>
<rect x="197.5" y="603.5" width="1" height="15.5" fill="#d0d6df"/>
<text x="165.1" y="615.2" font-family="'Liberation Mono', monospace" font-size="12" fill="#1e2430" textLength="24.7" lengthAdjust="spacingAndGlyphs">MACD</text>
<rect x="237.0" y="603.5" width="1" height="15.5" fill="#d0d6df"/>
<text x="205.4" y="615.2" font-family="'Liberation Mono', monospace" font-size="12" fill="#1e2430" textLength="24.4" lengthAdjust="spacingAndGlyphs">BIAS</text>
<rect x="270.9" y="603.5" width="1" height="15.5" fill="#d0d6df"/>
<text x="245.4" y="615.2" font-family="'Liberation Mono', monospace" font-size="12" fill="#1e2430" textLength="18.5" lengthAdjust="spacingAndGlyphs">CCI</text>
<rect x="305.0" y="603.5" width="1" height="15.5" fill="#d0d6df"/>
<text x="279.2" y="615.2" font-family="'Liberation Mono', monospace" font-size="12" fill="#1e2430" textLength="18.9" lengthAdjust="spacingAndGlyphs">KDJ</text>
<rect x="345.2" y="603.5" width="1" height="15.5" fill="#d0d6df"/>
<text x="312.8" y="615.2" font-family="'Liberation Mono', monospace" font-size="12" fill="#1e2430" textLength="20.1" lengthAdjust="spacingAndGlyphs">LW&amp;</text>
<rect x="378.8" y="603.5" width="1" height="15.5" fill="#d0d6df"/>
<text x="353.4" y="615.2" font-family="'Liberation Mono', monospace" font-size="12" fill="#1e2430" textLength="17.8" lengthAdjust="spacingAndGlyphs">RSI</text>
<rect x="406.9" y="603.5" width="1" height="15.5" fill="#d0d6df"/>
<text x="387.0" y="615.2" font-family="'Liberation Mono', monospace" font-size="12" fill="#1e2430" textLength="13.2" lengthAdjust="spacingAndGlyphs">CR</text>
<rect x="441.0" y="603.5" width="1" height="15.5" fill="#d0d6df"/>
<text x="415.2" y="615.2" font-family="'Liberation Mono', monospace" font-size="12" fill="#1e2430" textLength="18.1" lengthAdjust="spacingAndGlyphs">PSY</text>
<rect x="481.2" y="603.5" width="1" height="15.5" fill="#d0d6df"/>
<text x="449.3" y="615.2" font-family="'Liberation Mono', monospace" font-size="12" fill="#1e2430" textLength="25.1" lengthAdjust="spacingAndGlyphs">BOLL</text>
<rect x="515.2" y="603.5" width="1" height="15.5" fill="#d0d6df"/>
<text x="489.7" y="615.2" font-family="'Liberation Mono', monospace" font-size="12" fill="#1e2430" textLength="19.1" lengthAdjust="spacingAndGlyphs">VOL</text>
<rect x="555.0" y="603.5" width="1" height="15.5" fill="#d0d6df"/>
<text x="535.6" y="615.5" text-anchor="middle" font-family="'Liberation Sans', sans-serif" font-size="13" fill="#1e2430">设置</text>
<text x="9.5" y="17.5" text-anchor="middle" font-family="'Liberation Sans', sans-serif" font-size="12.5" fill="#1f2633" stroke="#1f2633" stroke-width="0.25">分</text>
<text x="9.5" y="31.5" text-anchor="middle" font-family="'Liberation Sans', sans-serif" font-size="12.5" fill="#1f2633" stroke="#1f2633" stroke-width="0.25">时</text>
<text x="9.5" y="44.5" text-anchor="middle" font-family="'Liberation Sans', sans-serif" font-size="12.5" fill="#1f2633" stroke="#1f2633" stroke-width="0.25">图</text>
<text x="9.5" y="66.0" text-anchor="middle" font-family="'Liberation Serif', serif" font-size="12" fill="#fff" stroke="#fff" stroke-width="0.25">K</text>
<text x="9.5" y="80.0" text-anchor="middle" font-family="'Liberation Sans', sans-serif" font-size="12.5" fill="#fff" stroke="#fff" stroke-width="0.25">线</text>
<text x="9.5" y="94.0" text-anchor="middle" font-family="'Liberation Sans', sans-serif" font-size="12.5" fill="#fff" stroke="#fff" stroke-width="0.25">图</text>
<text x="9.5" y="115.0" text-anchor="middle" font-family="'Liberation Sans', sans-serif" font-size="12.5" fill="#1f2633" stroke="#1f2633" stroke-width="0.25">闪</text>
<text x="9.5" y="129.0" text-anchor="middle" font-family="'Liberation Sans', sans-serif" font-size="12.5" fill="#1f2633" stroke="#1f2633" stroke-width="0.25">电</text>
<text x="9.5" y="143.0" text-anchor="middle" font-family="'Liberation Sans', sans-serif" font-size="12.5" fill="#1f2633" stroke="#1f2633" stroke-width="0.25">图</text>
<text x="9.5" y="167.6" text-anchor="middle" font-family="'Liberation Sans', sans-serif" font-size="12.5" fill="#1f2633" stroke="#1f2633" stroke-width="0.25">合</text>
<text x="9.5" y="180.8" text-anchor="middle" font-family="'Liberation Sans', sans-serif" font-size="12.5" fill="#1f2633" stroke="#1f2633" stroke-width="0.25">约</text>
<text x="9.5" y="194.2" text-anchor="middle" font-family="'Liberation Sans', sans-serif" font-size="12.5" fill="#1f2633" stroke="#1f2633" stroke-width="0.25">资</text>
<text x="9.5" y="207.7" text-anchor="middle" font-family="'Liberation Sans', sans-serif" font-size="12.5" fill="#1f2633" stroke="#1f2633" stroke-width="0.25">料</text>
</svg>
</body></html>
